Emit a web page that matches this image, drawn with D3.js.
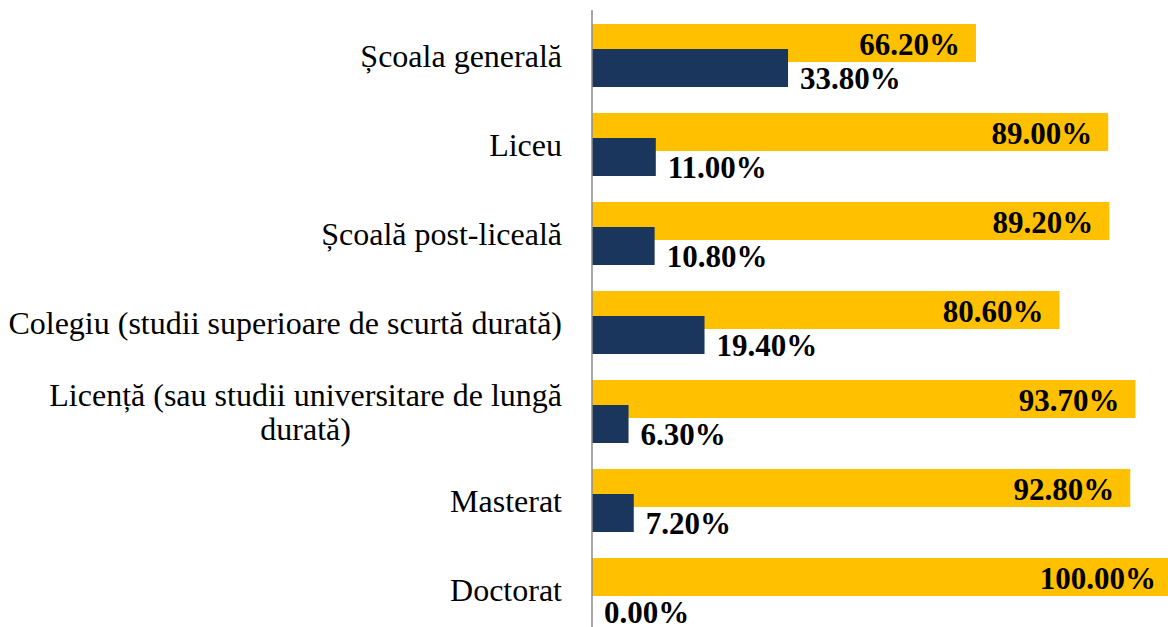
<!DOCTYPE html>
<meta charset="utf-8">
<html>
  <head>
  <title>Grouped bars</title>
    <style>
      body {
        margin: 0;
        background: #fff;
      }
      .cat {
        font-family: 'Liberation Serif', 'Times New Roman', serif;
        font-size: 32px;
        fill: #000;
      }
      .val {
        font-family: 'Liberation Serif', 'Times New Roman', serif;
        font-size: 31px;
        font-weight: bold;
        fill: #000;
      }
    </style>
  </head>
  <body>
<div id="svgCanvas"></div>

<script src="https://cdn.jsdelivr.net/npm/d3@7"></script>
<script>

// categories (one label may wrap on two lines)
var categories = [
  ["Școala generală"],
  ["Liceu"],
  ["Școală post-liceală"],
  ["Colegiu (studii superioare de scurtă durată)"],
  ["Licență (sau studii universitare de lungă", "durată)"],
  ["Masterat"],
  ["Doctorat"]
];
var catKeys = categories.map(function(d){ return d.join(" "); });

// yellow series (upper bar) and navy series (lower bar)
var topValues = [66.2, 89.0, 89.2, 80.6, 93.7, 92.8, 100.0];
var bottomValues = [33.8, 11.0, 10.8, 19.4, 6.3, 7.2, 0.0];

var colors = ["#FFC000", "#1B365D"];

var width = 1168;
var height = 627;

var holder = d3.select("#svgCanvas")
  .append("svg")
    .attr("width", width)
    .attr("height", height);

var x = d3.scaleLinear().domain([0, 100]).range([592, 1172]);
var y = d3.scaleBand().domain(catKeys).range([11, 634]).padding(0);

var bw = y.bandwidth();
var barH = bw * 38 / 89;
var topOff = bw * 13 / 89;
var botOff = bw * 38 / 89;

// yellow bars
holder.selectAll(".topBar")
  .data(topValues).enter()
  .append("rect")
    .attr("class", "topBar")
    .attr("x", x(0))
    .attr("y", function(d, i){ return y(catKeys[i]) + topOff; })
    .attr("width", function(d){ return x(d) - x(0); })
    .attr("height", barH)
    .style("fill", colors[0]);

// navy bars on top
holder.selectAll(".botBar")
  .data(bottomValues).enter()
  .append("rect")
    .attr("class", "botBar")
    .attr("x", x(0))
    .attr("y", function(d, i){ return y(catKeys[i]) + botOff; })
    .attr("width", function(d){ return x(d) - x(0); })
    .attr("height", barH)
    .style("fill", colors[1]);

// value labels
holder.selectAll(".topLbl")
  .data(topValues).enter()
  .append("text")
    .attr("class", "val")
    .attr("text-anchor", "end")
    .attr("x", function(d){ return x(d) - 16; })
    .attr("y", function(d, i){ return y(catKeys[i]) + topOff + 31; })
    .text(function(d){ return d.toFixed(2) + "%"; });

holder.selectAll(".botLbl")
  .data(bottomValues).enter()
  .append("text")
    .attr("class", "val")
    .attr("x", function(d){ return x(d) + 12; })
    .attr("y", function(d, i){ return y(catKeys[i]) + botOff + 40; })
    .text(function(d){ return d.toFixed(2) + "%"; });

// category labels
holder.selectAll(".cat")
  .data(categories).enter()
  .append("text")
    .attr("class", "cat")
    .each(function(lines, i) {
      var t = d3.select(this);
      var cy = y(catKeys[i]) + bw / 2;
      var lh = 34;
      var y0 = cy - (lines.length - 1) * lh / 2 + 11;
      if (lines.length == 1) {
        t.attr("text-anchor", "end").attr("x", 562).attr("y", y0).text(lines[0]);
      } else {
        // measure first line to center the block under it
        t.attr("text-anchor", "middle");
        var probe = holder.append("text").attr("class", "cat").text(lines[0]);
        var w = probe.node().getComputedTextLength();
        probe.remove();
        var cx = 562 - w / 2;
        lines.forEach(function(l, j) {
          t.append("tspan").attr("x", cx).attr("y", y0 + j * lh).text(l);
        });
      }
    });

// vertical axis line
holder.append("line")
  .attr("x1", x(0)).attr("x2", x(0))
  .attr("y1", 10).attr("y2", height)
  .style("stroke", "#8c8c8c")
  .style("stroke-width", 1.5);

</script>
  </body>
</html>
